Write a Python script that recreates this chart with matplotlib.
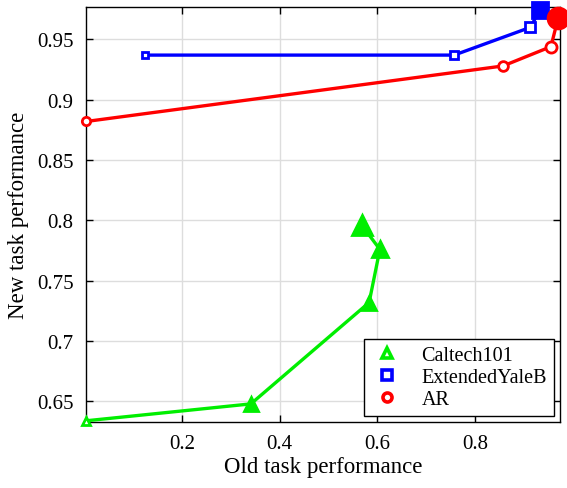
import matplotlib
matplotlib.use("Agg")
import matplotlib.pyplot as plt
from matplotlib.lines import Line2D

plt.rcParams['font.family'] = ['Liberation Serif', 'DejaVu Serif']

cal_x = [0.004, 0.341, 0.583, 0.605, 0.568]
cal_y = [0.634, 0.648, 0.732, 0.776, 0.796]
yale_x = [0.124, 0.757, 0.913, 0.932]
yale_y = [0.937, 0.937, 0.960, 0.974]
ar_x = [0.004, 0.857, 0.955, 0.970]
ar_y = [0.882, 0.928, 0.944, 0.968]

labels = ['Caltech101', 'ExtendedYaleB', 'AR']
xticks = [0.2, 0.4, 0.6, 0.8]
yticks = [0.65, 0.7, 0.75, 0.8, 0.85, 0.9, 0.95]
ytick_labels = ['0.65', '0.7', '0.75', '0.8', '0.85', '0.9', '0.95']

fig = plt.figure(figsize=(5.67, 4.89), dpi=100)
ax = fig.add_axes([0.152, 0.135, 0.836, 0.849])

series = [
    (cal_x, cal_y, '#00ee00', '^', [6, 10, 10, 12, 14], [False, True, True, True, True]),
    (yale_x, yale_y, '#0000ff', 's', [5, 6, 7, 11], [False, False, False, True]),
    (ar_x, ar_y, '#ff0000', 'o', [6, 7, 8, 15], [False, False, False, True]),
]
handles = []
for (xs, ys, c, m, sizes, fills), lab in zip(series, labels):
    ax.plot(xs, ys, color=c, lw=2.4, zorder=3)
    for x, y, s, f in zip(xs, ys, sizes, fills):
        ax.plot([x], [y], marker=m, ms=s, mec=c, mfc=c if f else 'white',
                mew=2.0, ls='none', zorder=4, clip_on=False)
    handles.append(Line2D([], [], color=c, marker=m, ms=6.5, mfc='white', mew=2.6, ls='none'))

ax.set_xlim(0.004, 0.974)
ax.set_ylim(0.633, 0.977)
ax.set_xticks(xticks)
ax.set_yticks(yticks)
ax.set_yticklabels(ytick_labels)
ax.grid(True, color='#dddddd', lw=1)
ax.set_axisbelow(True)
ax.tick_params(direction='in', top=True, right=True, labelsize=15, length=5, width=1)
ax.tick_params(axis='x', pad=9)
ax.tick_params(axis='y', pad=9)
for sp in ax.spines.values():
    sp.set_linewidth(1)
ax.set_xlabel('Old task performance', fontsize=16.5, labelpad=2)
ax.set_ylabel('New task performance', fontsize=16.5, labelpad=6)

leg = ax.legend(handles, labels, loc='lower right', fontsize=14.5, fancybox=False,
                edgecolor='black', framealpha=1, borderaxespad=0.3, handletextpad=0.9,
                handlelength=1.6, labelspacing=0.15, borderpad=0.35)
leg.get_frame().set_linewidth(1)

fig.savefig('out.png', dpi=100)
